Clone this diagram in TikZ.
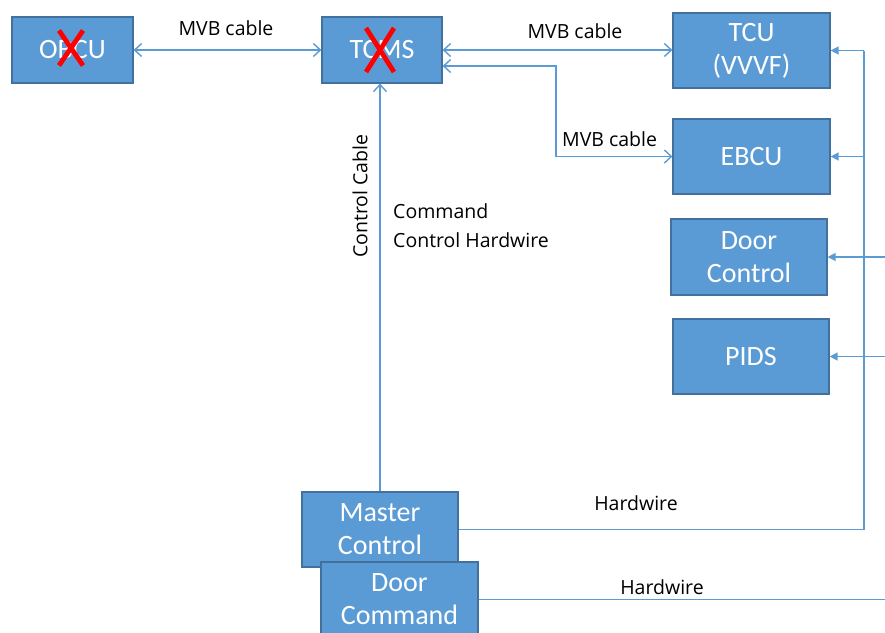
\documentclass[tikz,border=0pt]{standalone}
\usepackage{fontspec}
\setmainfont{Carlito}
\newfontfamily\labelfont{Open Sans}
\usetikzlibrary{arrows.meta,calc}
\definecolor{boxblue}{HTML}{5B9BD5}
\definecolor{boxedge}{HTML}{41719C}
\definecolor{wireblue}{HTML}{5B9BD5}
\definecolor{xred}{HTML}{FF0000}

\begin{document}
\begin{tikzpicture}[x=1pt,y=-1pt,
  unit/.style={draw=boxedge, line width=1.2pt, fill=boxblue, text=white,
    font=\fontsize{28}{33}\selectfont, align=center, inner sep=0pt,
    minimum width=#1, minimum height=75pt},
  unit/.default=157pt,
  lbl/.style={font=\labelfont\fontsize{19.5}{29}\selectfont, text=black, inner sep=0pt},
  wire/.style={draw=wireblue, line width=1.4pt},
  mvb/.style={wire, {Straight Barb[length=7pt,width=13pt]}-{Straight Barb[length=7pt,width=13pt]}},
  feed/.style={wire, -{Triangle[length=8pt,width=8pt]}},
  cross/.style={draw=xred, line width=4.8pt}
]
\useasboundingbox (0,0) rectangle (885,632);
\clip (0,0) rectangle (885,632);

% units
\node[unit=121pt, minimum height=66pt] (OBCU) at (72.5,50) {OBCU};
\node[unit=120pt, minimum height=66pt] (TCMS) at (382,50) {TCMS};
\node[unit] (TCU) at (751.5,50.5) {TCU\\(VVVF)};
\node[unit] (EBCU) at (751.5,156.5) {EBCU};
\node[unit=156pt, minimum height=76pt] (DoorCtl) at (749,257) {Door\\Control};
\node[unit=156pt] (PIDS) at (751,356.5) {PIDS};
\node[unit=156pt] (Master) at (380,529.5) {Master\\Control};
\node[unit] (DoorCmd) at (399.5,599.5) {Door\\Command};

% crossed-out units
\draw[cross] ($(OBCU.center)+(-13.5,-19.5)$) -- ($(OBCU.center)+(10.5,15.5)$);
\draw[cross] ($(OBCU.center)+(10.5,-19.5)$) -- ($(OBCU.center)+(-13.5,15.5)$);
\draw[cross] ($(TCMS.center)+(-16,-22)$) -- ($(TCMS.center)+(12,22)$);
\draw[cross] ($(TCMS.center)+(12,-22)$) -- ($(TCMS.center)+(-16,22)$);

% MVB links
\draw[mvb] (OBCU.east) -- (TCMS.west);
\draw[mvb] (TCMS.east) -- (TCMS.east -| TCU.west);
\coordinate (mvbTap) at ($(TCMS.east)+(0,16)$);
\coordinate (mvbBend) at (556,0);
\draw[mvb] (mvbTap) -- (mvbTap -| mvbBend) |- (EBCU.west);

\node[lbl] (lblMvbA) at (226,28) {MVB cable};
\node[lbl] (lblMvbB) at (575,31) {MVB cable};
\node[lbl, anchor=west] (lblMvbC) at (562,139) {MVB cable};

% control cable
\draw[wire, -{Straight Barb[length=7pt,width=13pt]}] (Master.north) -- (Master.north |- TCMS.south);
\node[lbl, rotate=90] (lblCtl) at (360,196) {Control Cable};
\node[lbl, align=left, anchor=west] (lblCmd) at (393,226) {Command\\Control Hardwire};

% hardwire from master control
\coordinate (hwBus) at (864,0);
\draw[wire] (Master.east) -| (hwBus |- TCU.east);
\draw[feed] (hwBus |- TCU.east) -- (TCU.east);
\draw[feed] (hwBus |- EBCU.east) -- (EBCU.east);
\node[lbl] (lblHwA) at (636,503) {Hardwire};

% hardwire from door command
\coordinate (doorBus) at (900,0);
\draw[wire] (DoorCmd.east) -- (DoorCmd.east -| doorBus);
\draw[feed] (doorBus |- DoorCtl.east) -- (DoorCtl.east);
\draw[feed] (doorBus |- PIDS.east) -- (PIDS.east);
\node[lbl] (lblHwB) at (662,587) {Hardwire};
\end{tikzpicture}
\end{document}
